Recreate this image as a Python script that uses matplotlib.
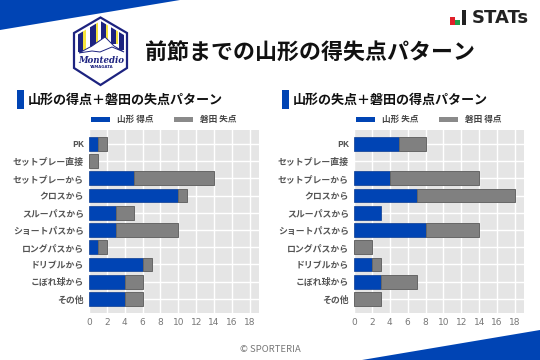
import matplotlib
matplotlib.use("Agg")
import matplotlib.pyplot as plt
import matplotlib.patches as mpatches
import numpy as np

plt.rcParams["font.family"] = ["Noto Sans CJK JP", "DejaVu Sans"]

W, H = 540, 360
BLUE = "#0044b4"
GRAY = "#808080"
NAVY = "#1d2380"

CATEGORIES = ["PK", "セットプレー直接", "セットプレーから", "クロスから", "スルーパスから",
              "ショートパスから", "ロングパスから", "ドリブルから", "こぼれ球から", "その他"]
XTICKS = [0, 2, 4, 6, 8, 10, 12, 14, 16, 18]

YAMAGATA_FOR = [1, 0, 5, 10, 3, 3, 1, 6, 4, 4]
IWATA_AGAINST = [1, 1, 9, 1, 2, 7, 1, 1, 2, 2]
YAMAGATA_AGAINST = [5, 0, 4, 7, 3, 8, 0, 2, 3, 0]
IWATA_FOR = [3, 0, 10, 11, 0, 6, 2, 1, 4, 3]

fig = plt.figure(figsize=(W / 100, H / 100), dpi=100, facecolor="white")

# overlay in pixel coords, y pointing down
bg = fig.add_axes([0, 0, 1, 1], zorder=0)
bg.set_xlim(0, W)
bg.set_ylim(H, 0)
bg.axis("off")

# corner wedges
bg.add_patch(mpatches.Polygon([(0, 0), (180, 0), (0, 30)], color=BLUE, lw=0))
bg.add_patch(mpatches.Polygon([(540, 330), (540, 360), (362, 360)], color=BLUE, lw=0))

# logo
hex_pts = [(100.5, 17.5), (127, 33), (127, 68), (100.5, 85), (74, 68), (74, 33)]
inner_pts = [(100.5, 21), (124, 35), (124, 66), (100.5, 81.5), (77, 66), (77, 35)]
bg.add_patch(mpatches.Polygon(hex_pts, closed=True, fc="white", ec=NAVY, lw=1.6))
clip = mpatches.Polygon(inner_pts, closed=True, transform=bg.transData)
for x0, x1, col, bot in [(78, 83, NAVY, 52), (83, 86, "#f5e33c", 50), (90, 96, NAVY, 48),
                         (96, 98, "#f5e33c", 46), (101, 106, NAVY, 42), (106, 108, "#f5e33c", 42),
                         (111, 116, NAVY, 44), (116, 118, "#f5e33c", 44), (119, 124, NAVY, 50)]:
    r = mpatches.Rectangle((x0, 20), x1 - x0, bot - 20, fc=col, ec="none")
    bg.add_patch(r)
    r.set_clip_path(clip)
bg.add_patch(mpatches.Polygon([(79, 53), (92, 46), (105, 37), (114, 46), (124, 52), (112, 47),
                               (100, 52), (92, 51)], fc="white", ec=NAVY, lw=0.7))
bg.text(101, 60.5, "Montedio", fontsize=6.2, fontweight="bold", style="italic", color=NAVY,
        ha="center", va="center", family="DejaVu Serif")
bg.text(101, 67.5, "YAMAGATA", fontsize=2.8, fontweight="bold", color=NAVY,
        ha="center", va="center", family="DejaVu Sans")

# titles
bg.text(145, 53, "前節までの山形の得失点パターン", fontsize=15.8, fontweight="bold",
        color="#111111", ha="left", va="center")
bg.add_patch(mpatches.Rectangle((17, 90), 7, 19, fc=BLUE, ec="none"))
bg.add_patch(mpatches.Rectangle((282, 90), 7, 19, fc=BLUE, ec="none"))
bg.text(28, 99.5, "山形の得点＋磐田の失点パターン", fontsize=9.4, fontweight="bold",
        color="#111111", ha="left", va="center")
bg.text(293, 99.5, "山形の失点＋磐田の得点パターン", fontsize=9.4, fontweight="bold",
        color="#111111", ha="left", va="center")

# STATs mark
for x0, x1, y0, col in [(450, 455, 17, "#e0202a"), (455, 460, 20, "#1d9e4b"), (462, 466, 10, "#222222")]:
    bg.add_patch(mpatches.Rectangle((x0, y0), x1 - x0, 25 - y0, fc=col, ec="none"))
bg.text(472, 18, "STATs", fontsize=13, fontweight="bold", color="#222222",
        ha="left", va="center", family="DejaVu Sans")

bg.text(270, 350, "© SPORTERIA", fontsize=6.8, color="#777777", ha="center", va="center")


def legend_row(x_blue, x_gray, label_blue, label_gray):
    bg.add_patch(mpatches.Rectangle((x_blue, 116.5), 19, 5.5, fc=BLUE, ec="none"))
    bg.add_patch(mpatches.Rectangle((x_gray, 116.5), 19, 5.5, fc="#8a8a8a", ec="none"))
    bg.text(x_blue + 26, 119.5, label_blue, fontsize=6.2, fontweight="bold", color="#444444",
            ha="left", va="center")
    bg.text(x_gray + 26, 119.5, label_gray, fontsize=6.2, fontweight="bold", color="#444444",
            ha="left", va="center")


legend_row(91, 174, "山形 得点", "磐田 失点")
legend_row(356, 439, "山形 失点", "磐田 得点")


def bar_panel(left_px, right_px, blue_vals, gray_vals):
    top_px, bot_px = 130, 312.7
    ax = fig.add_axes([left_px / W, 1 - bot_px / H, (right_px - left_px) / W, (bot_px - top_px) / H],
                      zorder=1)
    ax.set_facecolor("#e5e5e5")
    y = np.arange(len(CATEGORIES))
    # zero-length bars would still show their edge
    has_blue = blue_vals > 0
    has_gray = gray_vals > 0
    ax.barh(y[has_blue], blue_vals[has_blue], height=0.8, color=BLUE, edgecolor="#0a3a90",
            linewidth=0.5, zorder=3)
    ax.barh(y[has_gray], gray_vals[has_gray], left=blue_vals[has_gray], height=0.8, color=GRAY,
            edgecolor="#666666", linewidth=0.7, zorder=3)
    ax.set_xlim(0, 19)
    ax.set_ylim(9.8, -0.81)
    ax.set_xticks(XTICKS)
    ax.set_yticks(y)
    ax.set_yticklabels(CATEGORIES, fontsize=6.4, fontweight="bold", color="#555555")
    ax.tick_params(axis="x", length=0, labelsize=6.5, labelcolor="#777777", pad=4)
    ax.tick_params(axis="y", length=0, pad=3.6)
    for lab in ax.get_xticklabels():
        lab.set_family("DejaVu Sans")
    ax.grid(True, color="white", linewidth=1, zorder=1)
    ax.set_axisbelow(True)
    for s in ax.spines.values():
        s.set_visible(False)


bar_panel(89, 258.7, np.array(YAMAGATA_FOR), np.array(IWATA_AGAINST))
bar_panel(354, 524, np.array(YAMAGATA_AGAINST), np.array(IWATA_FOR))

fig.savefig("out.png", dpi=100)
